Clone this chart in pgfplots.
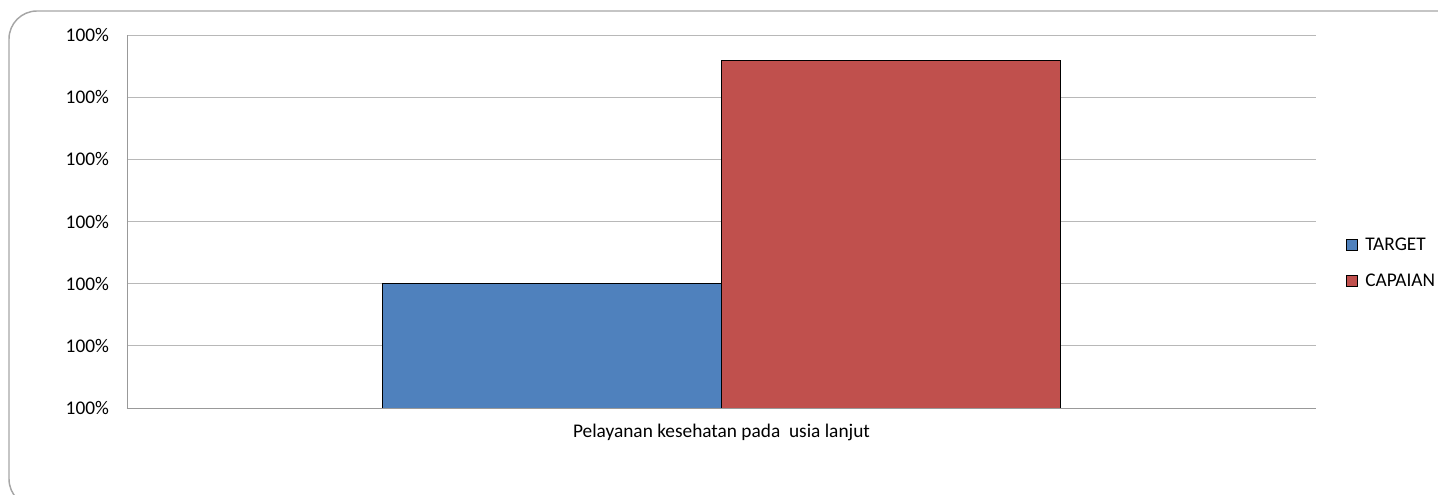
\documentclass[border=0pt]{standalone}
\usepackage{pgfplots}
\pgfplotsset{compat=1.18}
\usepackage{fontspec}
\setmainfont{Carlito}
\definecolor{tblue}{HTML}{4F81BD}
\definecolor{cred}{HTML}{C0504D}
\begin{document}
\begin{tikzpicture}[x=0.75pt,y=0.75pt]
\useasboundingbox (0,0) rectangle (1438,495);
\clip (0,0) rectangle (1438,495);
\draw[line width=1.1pt, black!35, rounded corners=21pt] (9,495-11) rectangle (1500,-12);
\begin{axis}[
  at={(95.25pt,65.25pt)}, anchor=south west,
  scale only axis, width=891.75pt, height=279.75pt,
  ybar=0pt, bar width=254.25pt,
  xmin=-1, xmax=1, ymin=0, ymax=6,
  xtick={0}, xticklabels={Pelayanan kesehatan pada\ \ usia lanjut},
  ytick={0,1,2,3,4,5,6},
  yticklabels={100\%,100\%,100\%,100\%,100\%,100\%,100\%},
  ymajorgrids, grid style={black!28, line width=0.6pt},
  axis x line*=bottom, axis y line*=left,
  axis line style={black!40, line width=0.6pt, -},
  major tick length=0pt,
  tick label style={font=\fontsize{14.5}{17}\selectfont, text=black},
  yticklabel style={xshift=-10pt},
  xticklabel style={yshift=-8.5pt},
  legend style={at={(1.025,0.389)}, anchor=west, draw=none, fill=none,
    font=\fontsize{14.5}{17}\selectfont, row sep=12pt, inner sep=0pt,
    /tikz/every odd column/.append style={column sep=4pt}},
  legend cell align=left,
  legend image code/.code={\draw[#1, line width=0.5pt] (0pt,-4pt) rectangle (8pt,4pt);},
]
\addplot[fill=tblue, draw=black, line width=0.6pt] coordinates {(0,2.0)};
\addplot[fill=cred, draw=black, line width=0.6pt] coordinates {(0,5.59)};
\legend{TARGET,CAPAIAN}
\end{axis}
\end{tikzpicture}
\end{document}
